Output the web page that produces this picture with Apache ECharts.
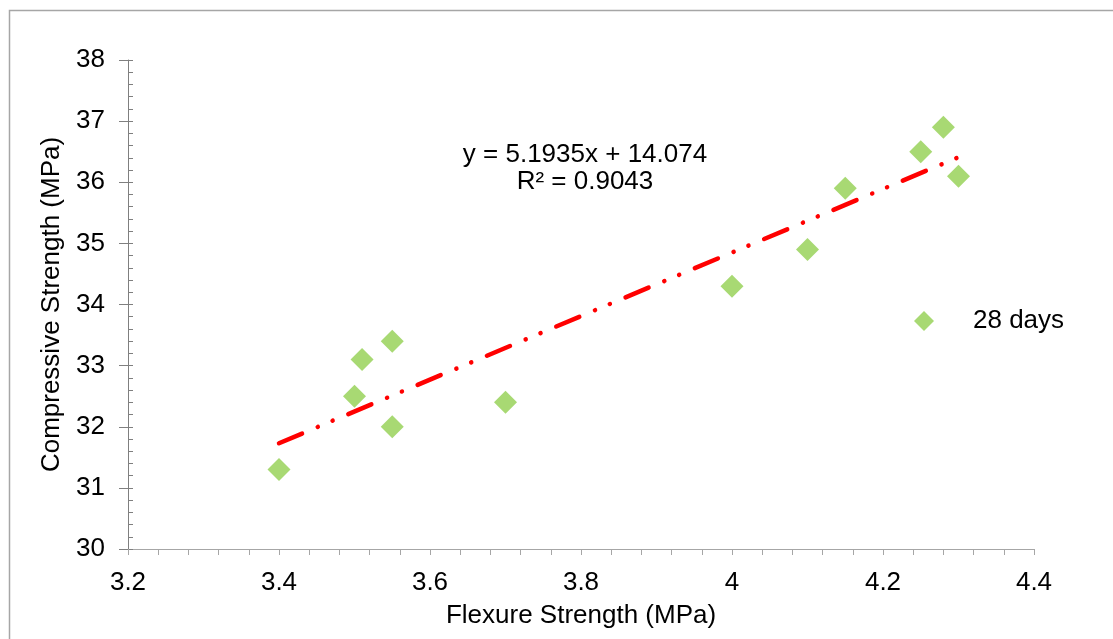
<!DOCTYPE html>
<html>
<head>
<meta charset="utf-8">
<script src="https://cdn.jsdelivr.net/npm/echarts@6/dist/echarts.min.js"></script>
<style>
html,body{margin:0;padding:0;background:#fff;}
#c{width:1113px;height:639px;}
</style>
</head>
<body>
<div id="c"></div>
<script>
// Data
const flexure = [3.4, 3.5, 3.51, 3.55, 3.55, 3.7, 4.0, 4.1, 4.15, 4.25, 4.28, 4.3];
const compressive = [31.3, 32.5, 33.1, 33.4, 32.0, 32.4, 34.3, 34.9, 35.9, 36.5, 36.9, 36.1];
const seriesName = '28 days';
// Linear trendline end points (x, y) as drawn in the reference
const trendX = [3.4, 4.3];
const trendY = [31.73, 36.41];
const equationLines = ['y = 5.1935x + 14.074', 'R\u00b2 = 0.9043'];
const xTitle = 'Flexure Strength (MPa)';
const yTitle = 'Compressive Strength (MPa)';

const FONT = '"Liberation Sans", Arial, sans-serif';
const chart = echarts.init(document.getElementById('c'), null, {renderer: 'canvas'});

const points = flexure.map((x, i) => [x, compressive[i]]);
const trend = trendX.map((x, i) => [x, trendY[i]]);

chart.setOption({
  animation: false,
  backgroundColor: '#ffffff',
  textStyle: {fontFamily: FONT},
  grid: {left: 128, right: 79, top: 60, bottom: 90, containLabel: false},
  legend: {
    data: [{name: seriesName, icon: 'diamond'}],
    left: 909, top: 303,
    itemWidth: 20, itemHeight: 20, itemGap: 10,
    textStyle: {fontSize: 26, color: '#000', fontFamily: FONT, padding: [0, 0, 0, 34]},
    selectedMode: false
  },
  xAxis: {
    type: 'value', min: 3.2, max: 4.4, interval: 0.2,
    name: xTitle, nameLocation: 'middle', nameGap: 54,
    nameTextStyle: {fontSize: 26, color: '#000', fontFamily: FONT},
    axisLine: {show: true, onZero: false, lineStyle: {color: '#a6a6a6', width: 1}},
    axisTick: {show: true, length: 6, lineStyle: {color: '#a6a6a6'}},
    minorTick: {show: true, splitNumber: 5, length: 6, lineStyle: {color: '#a6a6a6'}},
    splitLine: {show: false},
    axisLabel: {fontSize: 26, color: '#000', margin: 21, fontFamily: FONT}
  },
  yAxis: [{
    type: 'value', min: 30, max: 38, interval: 1, position: 'left',
    name: yTitle, nameLocation: 'middle', nameGap: 62, nameRotate: 90,
    nameTextStyle: {fontSize: 26, color: '#000', fontFamily: FONT},
    axisLine: {show: true, onZero: false, lineStyle: {color: '#7f7f7f', width: 1}},
    axisTick: {show: true, length: 9, lineStyle: {color: '#7f7f7f'}},
    splitLine: {show: false},
    axisLabel: {fontSize: 26, color: '#000', margin: 23, fontFamily: FONT}
  }, {
    type: 'value', min: 30, max: 38, interval: 1, position: 'left', offset: 0,
    axisLine: {show: false},
    axisTick: {show: true, inside: true, length: 5, lineStyle: {color: '#7f7f7f'}},
    minorTick: {show: true, splitNumber: 5, length: 5, lineStyle: {color: '#7f7f7f'}},
    splitLine: {show: false},
    axisLabel: {show: false}
  }],
  series: [{
    name: 'Linear trend', type: 'line', data: trend,
    symbol: 'none', silent: true, z: 1,
    lineStyle: {color: '#ff0000', width: 4.5, cap: 'round', type: [25, 17, 0.1, 16, 0.1, 17]}
  }, {
    name: seriesName, type: 'scatter', data: points,
    symbol: 'diamond', symbolSize: 23, z: 3,
    itemStyle: {color: '#92d050'}
  }],
  graphic: [{
    type: 'rect', left: 7, top: 8, silent: true,
    shape: {x: 0, y: 0, width: 1130, height: 660},
    style: {fill: 'none', stroke: '#a6a6a6', lineWidth: 1.5}
  }, {
    type: 'text', x: 585, y: 141, silent: true,
    style: {
      text: equationLines.join('\n'),
      font: '26px ' + FONT, fill: '#000',
      textAlign: 'center', textVerticalAlign: 'top', lineHeight: 27
    }
  }]
});
</script>
</body>
</html>
